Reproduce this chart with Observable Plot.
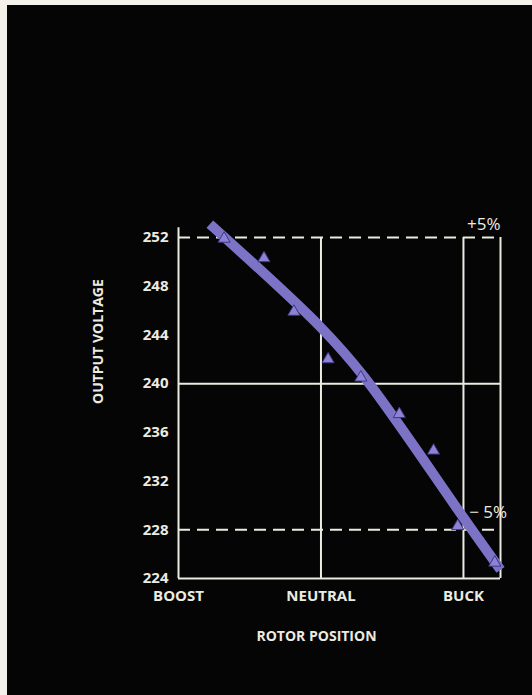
<!DOCTYPE html>
<html>
<head>
<meta charset="utf-8">
<script src="https://cdn.jsdelivr.net/npm/d3@7"></script>
<script src="https://cdn.jsdelivr.net/npm/@observablehq/plot@0.6"></script>
<style>
  html, body { margin: 0; padding: 0; background: #f3f1ea; width: 532px; height: 695px; overflow: hidden; }
  #panel { position: absolute; left: 7px; top: 5px; width: 525px; height: 690px; background: #050505; }
  svg { display: block; }
</style>
</head>
<body>
<div id="panel"></div>
<script>
// Rotor position: BOOST = -1, NEUTRAL = 0, BUCK = 1
const xTickValues = [-1, 0, 1];
const xTickLabels = ["BOOST", "NEUTRAL", "BUCK"];
const yTicks = [224, 228, 232, 236, 240, 244, 248, 252];

// fitted curve
const curveX = [-0.78, 0.0, 0.30, 1.0, 1.26];
const curveY = [253.1, 244.6, 240.6, 229.0, 224.7];

// measured points (triangles)
const pointX = [-0.68, -0.40, -0.19, 0.05, 0.28, 0.55, 0.79, 0.96, 1.22];
const pointY = [251.9, 250.3, 245.9, 242.0, 240.5, 237.5, 234.5, 228.3, 225.3];

const solidLevels = [224, 240];
const dashedLevels = [252, 228];
const gridX = [0, 1, 1.26];
const plusLabel = {x: 1.26, y: 252, text: "+5%"};
const minusLabel = {x: 1.04, y: 229.4, text: "\u2212 5%"};

const ink = "#ecebe2";
const violet = "#7c72c6";
const font = "'Open Sans', sans-serif";

const chart = Plot.plot({
  width: 525,
  height: 690,
  marginLeft: 171,
  marginRight: 32,
  marginTop: 232,
  marginBottom: 117,
  x: {domain: [-1, 1.26], axis: null},
  y: {domain: [224, 252], axis: null},
  style: {background: "transparent", color: ink, fontFamily: font},
  marks: [
    Plot.ruleX(gridX, {stroke: ink, strokeWidth: 2}),
    Plot.ruleX([-1], {y1: 224, y2: 252.8, stroke: ink, strokeWidth: 2}),
    Plot.ruleY(solidLevels, {stroke: ink, strokeWidth: 2}),
    Plot.ruleY(dashedLevels, {stroke: ink, strokeWidth: 2, strokeDasharray: "12,7"}),
    Plot.line(d3.range(curveX.length), {
      x: i => curveX[i], y: i => curveY[i],
      curve: "catmull-rom", stroke: violet, strokeWidth: 10, strokeLinecap: "butt"
    }),
    Plot.dot(d3.range(pointX.length), {
      x: i => pointX[i], y: i => pointY[i],
      symbol: "triangle", r: 4.5, fill: "#8c83d4", stroke: "#3f3586", strokeWidth: 1
    }),
    Plot.axisY(yTicks, {tickSize: 0, tickPadding: 10, fontSize: 15, fontWeight: "bold", fill: ink, label: null}),
    Plot.axisX(xTickValues, {
      tickSize: 0, tickPadding: 12, fontSize: 15, fontWeight: "bold", fill: ink, label: null,
      tickFormat: d => xTickLabels[xTickValues.indexOf(d)]
    }),
    Plot.text([plusLabel], {x: "x", y: "y", text: "text", textAnchor: "end", dy: -13, fontSize: 17, fill: ink, letterSpacing: "1.5px"}),
    Plot.text([minusLabel], {x: "x", y: "y", text: "text", textAnchor: "start", fontSize: 17, fill: ink}),
    Plot.text(["OUTPUT VOLTAGE"], {frameAnchor: "left", dx: -80, dy: -4, rotate: -90, fontSize: 14, fontWeight: "bold", fill: ink, letterSpacing: "1.5px"}),
    Plot.text(["ROTOR POSITION"], {frameAnchor: "bottom", dx: -23, dy: 62, fontSize: 14, fontWeight: "bold", fill: ink, letterSpacing: "1px"})
  ]
});
document.getElementById("panel").appendChild(chart);
</script>
</body>
</html>
